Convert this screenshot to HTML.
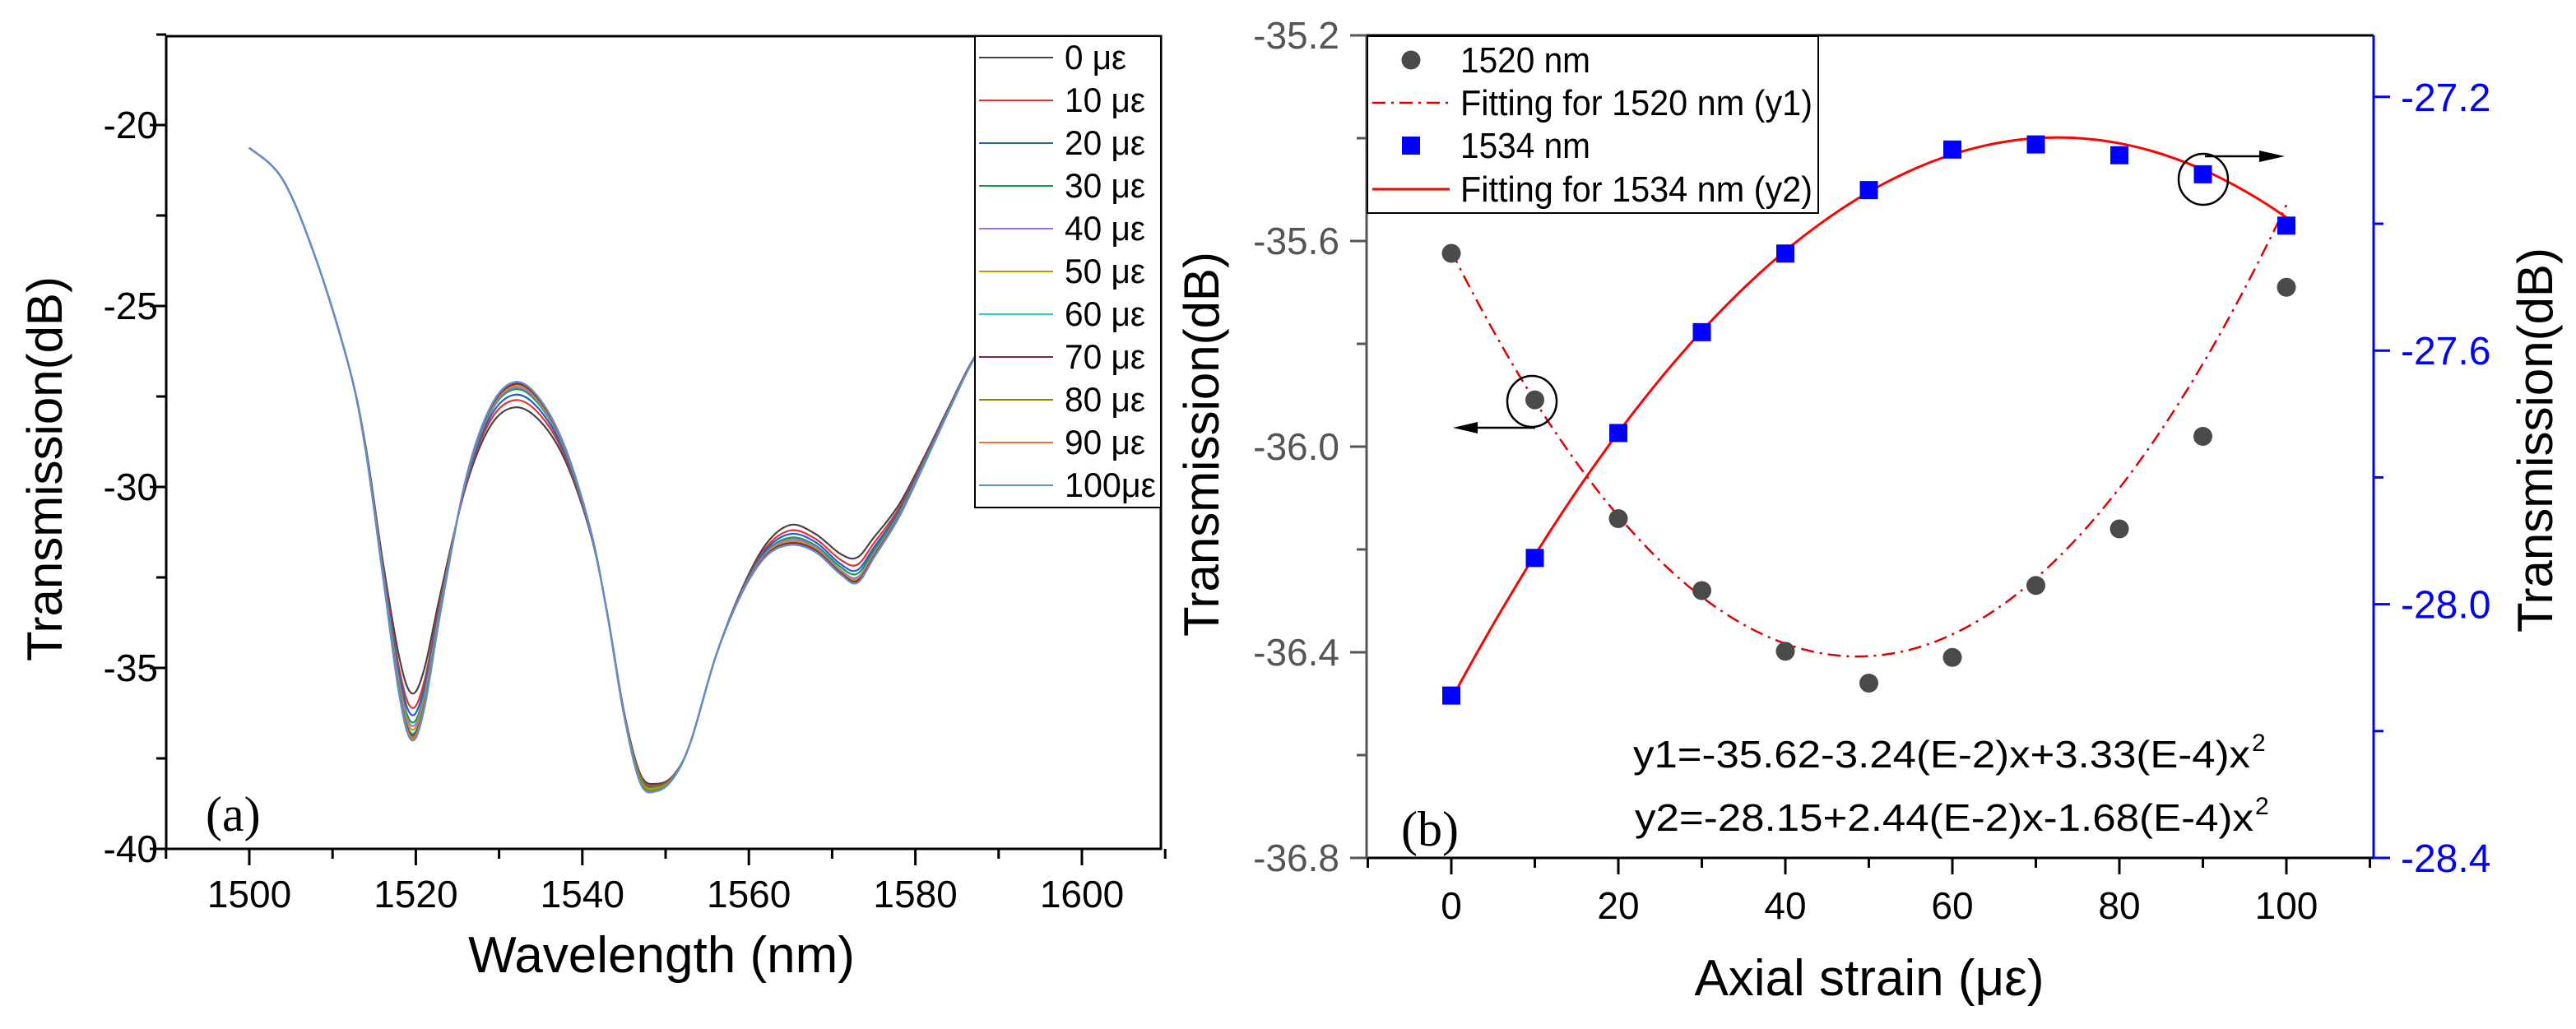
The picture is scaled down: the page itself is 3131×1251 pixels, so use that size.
<!DOCTYPE html>
<html><head><meta charset="utf-8">
<style>
html,body{margin:0;padding:0;background:#fff;}
svg{display:block;}
</style></head>
<body>
<svg id="chart" width="3131" height="1251" viewBox="0 0 3131 1251" font-family="Liberation Sans, sans-serif">
<rect width="3131" height="1251" fill="#fff"/>
<g id="pa"></g>
<g id="pb"></g>
</svg>
<script>
// ---------- Panel (a) data ----------
const strainLabels = ["0 με","10 με","20 με","30 με","40 με","50 με","60 με","70 με","80 με","90 με","100με"];
const wavelengths = [1500,1504,1508,1512,1514,1516,1518,1519.5,1521,1523,1526,1529,1532,1535,1538,1541,1543,1545,1547,1549,1551,1553,1556,1559,1562,1565,1568,1571,1573,1575,1578,1581,1584,1587,1590];
const baseTransmission = [-20.63,-21.5,-23.7,-26.7,-28.9,-32.0,-34.7,-35.7,-35.05,-32.9,-30.0,-28.3,-27.8,-28.2,-29.3,-31.3,-33.5,-36.2,-37.95,-38.2,-37.95,-37.05,-34.7,-32.9,-31.6,-31.05,-31.3,-31.85,-31.95,-31.4,-30.5,-29.2,-27.8,-26.45,-25.6];
const featureRegion = [0,0,0,0,1,1,1,1,1,1,2,2,2,2,2,2,3,3,3,3,3,0,0,4,4,4,4,5,5,5,5,5,5,5,0];
const featureWeight = [0,0,0,0,0.1,0.3,0.8,1,0.85,0.4,0.3,0.75,1,0.85,0.5,0.15,0.1,0.4,1,0.8,0.3,0,0,0.2,0.6,1,0.9,0.8,1,0.8,0.5,0.3,0.15,0.05,0];
const dip1520 = [-35.7,-36.1,-36.3,-36.5,-36.6,-36.7,-36.8,-36.85,-36.9,-36.95,-37.0];
const peak1532 = [-27.8,-27.6,-27.45,-27.3,-27.25,-27.2,-27.15,-27.15,-27.1,-27.1,-27.1];
const dip1548 = [-38.2,-38.25,-38.3,-38.3,-38.35,-38.35,-38.4,-38.4,-38.4,-38.45,-38.45];
const bump1565 = [-31.05,-31.2,-31.3,-31.4,-31.45,-31.5,-31.55,-31.55,-31.6,-31.6,-31.6];
const dip1573 = [-31.95,-32.15,-32.3,-32.4,-32.5,-32.55,-32.6,-32.6,-32.65,-32.65,-32.65];
const aXTicks = [1500,1520,1540,1560,1580,1600];
const aYTicks = [-20,-25,-30,-35,-40];

// ---------- Panel (b) data ----------
const strainX = [0,10,20,30,40,50,60,70,80,90,100];
const t1520 = [-35.624,-35.909,-36.14,-36.28,-36.398,-36.46,-36.41,-36.27,-36.16,-35.98,-35.69];
const t1534 = [-28.144,-27.927,-27.73,-27.571,-27.447,-27.347,-27.283,-27.275,-27.292,-27.322,-27.403];
const fit1 = [-35.62,-3.24e-2,3.33e-4];
const fit2 = [-28.15,2.44e-2,-1.68e-4];
const bXTicks = [0,20,40,60,80,100];
const bYLeftTicks = [-35.2,-35.6,-36.0,-36.4,-36.8];
const bYRightTicks = [-27.2,-27.6,-28.0,-28.4];

const NS="http://www.w3.org/2000/svg";
function mk(parent,tag,attrs,txt){const e=document.createElementNS(NS,tag);for(const k in attrs)e.setAttribute(k,attrs[k]);if(txt!==undefined)e.textContent=txt;parent.appendChild(e);return e;}
function smooth(pts){let d="M"+pts[0][0].toFixed(1)+","+pts[0][1].toFixed(1);for(let i=0;i<pts.length-1;i++){const p0=pts[Math.max(0,i-1)],p1=pts[i],p2=pts[i+1],p3=pts[Math.min(pts.length-1,i+2)];const c1=[p1[0]+(p2[0]-p0[0])/6,p1[1]+(p2[1]-p0[1])/6],c2=[p2[0]-(p3[0]-p1[0])/6,p2[1]-(p3[1]-p1[1])/6];d+="C"+c1[0].toFixed(1)+","+c1[1].toFixed(1)+" "+c2[0].toFixed(1)+","+c2[1].toFixed(1)+" "+p2[0].toFixed(1)+","+p2[1].toFixed(1);}return d;}
function narrow(parent,x,y,size,str,len){return mk(parent,'text',{x:x,y:y,'font-size':size,textLength:len,lengthAdjust:'spacingAndGlyphs'},str);}

// ===== Panel A =====
const pa=document.getElementById('pa');
const aL=202,aR=1411,aT=44,aB=1032;
const ax=v=>303+(v-1500)*10.12;
const ay=v=>1032-(v+40)*44;
const colors=["#444444","#e83030","#1f5fd6","#1a9a50","#a070e0","#c89a00","#30c8c8","#8b2040","#8a8a00","#f07030","#5b8fd8"];
const feats=[null,dip1520,peak1532,dip1548,bump1565,dip1573];
for(let s=0;s<strainLabels.length;s++){
  const pts=wavelengths.map((w,i)=>{let v=baseTransmission[i];const r=featureRegion[i];if(r>0)v+=featureWeight[i]*(feats[r][s]-feats[r][0]);return [ax(w),ay(v)];});
  const p=mk(pa,'path',{d:smooth(pts),fill:'none',stroke:colors[s],'stroke-width':2.2});
  
  
}
const fa=mk(pa,'rect',{x:aL,y:aT,width:aR-aL,height:aB-aT,fill:'none',stroke:'#000','stroke-width':3});

for(let w=1490;w<=1610;w+=10){const x=ax(w);const major=aXTicks.includes(w);mk(pa,'line',{x1:x,x2:x,y1:aB,y2:aB+(major?20:12),stroke:'#000','stroke-width':3});}
aXTicks.forEach(w=>{const t=mk(pa,'text',{x:ax(w),y:1103,'font-size':46,'text-anchor':'middle'},String(w));});
for(let v=-40;v<=-17.5;v+=2.5){const y=ay(v);const major=aYTicks.includes(v);mk(pa,'line',{x1:aL,x2:aL-(major?20:12),y1:y,y2:y,stroke:'#000','stroke-width':3});}
aYTicks.forEach(v=>{const t=mk(pa,'text',{x:192,y:ay(v)+16,'font-size':46,'text-anchor':'end'},String(v));});
let t=mk(pa,'text',{x:804,y:1182,'font-size':62,'text-anchor':'middle'},'Wavelength (nm)');
t=mk(pa,'text',{x:0,y:0,'font-size':60,'text-anchor':'middle',transform:'translate(75,570) rotate(-90)'},'Transmission(dB)');
t=mk(pa,'text',{x:250,y:1010,'font-size':60,'font-family':'Liberation Serif, serif'},'(a)');
const lg=mk(pa,'g',{});
mk(lg,'rect',{x:1185,y:44,width:226,height:573,fill:'#fff',stroke:'#000','stroke-width':2});
strainLabels.forEach((lab,i)=>{const y=70+i*52;const g=mk(lg,'g',{});
mk(g,'line',{x1:1190,x2:1280,y1:y,y2:y,stroke:colors[i],'stroke-width':2});
narrow(g,1294,y+14,42,lab,lab.length===4?75:(lab.length===5&&lab[2]!==' '?111:98));});

// ===== Panel B =====
const pb=document.getElementById('pb');
const bL=1661,bR=2885,bT=43,bB=1043;
const bx=v=>1764+v*10.15;
const byL=v=>43+(-35.2-v)*625;
const byR=v=>1043-(v+28.4)*771;
function fitPath(c,yf){const pts=[];for(let x=0;x<=100;x+=2)pts.push([bx(x),yf(c[0]+c[1]*x+c[2]*x*x)]);return smooth(pts);}
let p=mk(pb,'path',{d:fitPath(fit1,byL),fill:'none',stroke:'#e00000','stroke-width':2.5,'stroke-dasharray':'16,7,3,7'});
p=mk(pb,'path',{d:fitPath(fit2,byR),fill:'none',stroke:'#ff0000','stroke-width':3});
strainX.forEach((x,i)=>{const c=mk(pb,'circle',{cx:bx(x),cy:byL(t1520[i]),r:11.5,fill:'#4a4a4a'});
const s=mk(pb,'rect',{x:bx(x)-11,y:byR(t1534[i])-11,width:22,height:22,fill:'#0000ff'});});
mk(pb,'line',{x1:bL,x2:bR,y1:bT,y2:bT,stroke:'#000','stroke-width':3});
mk(pb,'line',{x1:bL,x2:bR,y1:bB,y2:bB,stroke:'#000','stroke-width':3});
const la=mk(pb,'line',{x1:bL,x2:bL,y1:bT,y2:bB,stroke:'#555','stroke-width':3});
const ra=mk(pb,'line',{x1:bR,x2:bR,y1:bT,y2:bB,stroke:'#0000ff','stroke-width':3});
for(let v=-10;v<=110;v+=10){const x=bx(v);const major=bXTicks.includes(v);mk(pb,'line',{x1:x,x2:x,y1:bB,y2:bB+(major?20:12),stroke:'#000','stroke-width':3});}
bXTicks.forEach(v=>{const t=mk(pb,'text',{x:bx(v),y:1117,'font-size':46,'text-anchor':'middle'},String(v));});
for(let k=0;k<=8;k++){const v=-35.2-k*0.2;const y=byL(v);mk(pb,'line',{x1:bL,x2:bL-(k%2?12:20),y1:y,y2:y,stroke:'#555','stroke-width':3});}
bYLeftTicks.forEach(v=>{const t=mk(pb,'text',{x:1628,y:byL(v)+16,'font-size':46,'text-anchor':'end',fill:'#555'},v.toFixed(1));});
for(let k=0;k<=6;k++){const v=-28.4+k*0.2;const y=byR(v);mk(pb,'line',{x1:bR,x2:bR+(k%2?12:20),y1:y,y2:y,stroke:'#0000ff','stroke-width':3});}
bYRightTicks.forEach(v=>{const t=mk(pb,'text',{x:2918,y:byR(v)+17,'font-size':48,fill:'#0000ff'},v.toFixed(1));});
t=mk(pb,'text',{x:2272,y:1210,'font-size':62,'text-anchor':'middle'},'Axial strain (με)');
t=mk(pb,'text',{x:0,y:0,'font-size':60,'text-anchor':'middle',transform:'translate(1481,540) rotate(-90)'},'Transmission(dB)');
t=mk(pb,'text',{x:0,y:0,'font-size':60,'text-anchor':'middle',transform:'translate(3102,535) rotate(-90)'},'Transmission(dB)');
t=mk(pb,'text',{x:1703,y:1028,'font-size':60,'font-family':'Liberation Serif, serif'},'(b)');
// equations
const eq1=mk(pb,'g',{});
narrow(eq1,1985,933,46,'y1=-35.62-3.24(E-2)x+3.33(E-4)x',750);mk(eq1,'text',{x:2737,y:913,'font-size':30},'2');
const eq2=mk(pb,'g',{});
narrow(eq2,1987,1010,46,'y2=-28.15+2.44(E-2)x-1.68(E-4)x',752);mk(eq2,'text',{x:2741,y:990,'font-size':30},'2');
// annotations
let an=mk(pb,'g',{});
mk(an,'ellipse',{cx:1862,cy:488,rx:30,ry:31,fill:'none',stroke:'#000','stroke-width':2.5});
mk(an,'line',{x1:1866,x2:1790,y1:520,y2:520,stroke:'#000','stroke-width':2.5});
mk(an,'polygon',{points:'1766,520 1796,513 1796,527',fill:'#000'});
an=mk(pb,'g',{});
mk(an,'ellipse',{cx:2678,cy:218,rx:30,ry:31,fill:'none',stroke:'#000','stroke-width':2.5});
mk(an,'line',{x1:2680,x2:2750,y1:190,y2:190,stroke:'#000','stroke-width':2.5});
mk(an,'polygon',{points:'2777,190 2746,183 2746,197',fill:'#000'});
// legend b
const lb=mk(pb,'g',{});
mk(lb,'rect',{x:1662,y:44,width:548,height:215,fill:'#fff',stroke:'#000','stroke-width':2});
const ly=[73,125,177,230];
const e1=mk(lb,'g',{});
mk(e1,'circle',{cx:1715,cy:ly[0],r:11.5,fill:'#4a4a4a'});narrow(e1,1775,ly[0]+15,44,'1520 nm',158);
const e2=mk(lb,'g',{});
mk(e2,'line',{x1:1668,x2:1762,y1:ly[1],y2:ly[1],stroke:'#e00000','stroke-width':2.5,'stroke-dasharray':'16,7,3,7'});narrow(e2,1775,ly[1]+15,44,'Fitting for 1520 nm (y1)',428);
const e3=mk(lb,'g',{});
mk(e3,'rect',{x:1704,y:ly[2]-11,width:22,height:22,fill:'#0000ff'});narrow(e3,1775,ly[2]+15,44,'1534 nm',158);
const e4=mk(lb,'g',{});
mk(e4,'line',{x1:1668,x2:1762,y1:ly[3],y2:ly[3],stroke:'#ff0000','stroke-width':3});narrow(e4,1775,ly[3]+15,44,'Fitting for 1534 nm (y2)',428);
</script>
</body></html>
